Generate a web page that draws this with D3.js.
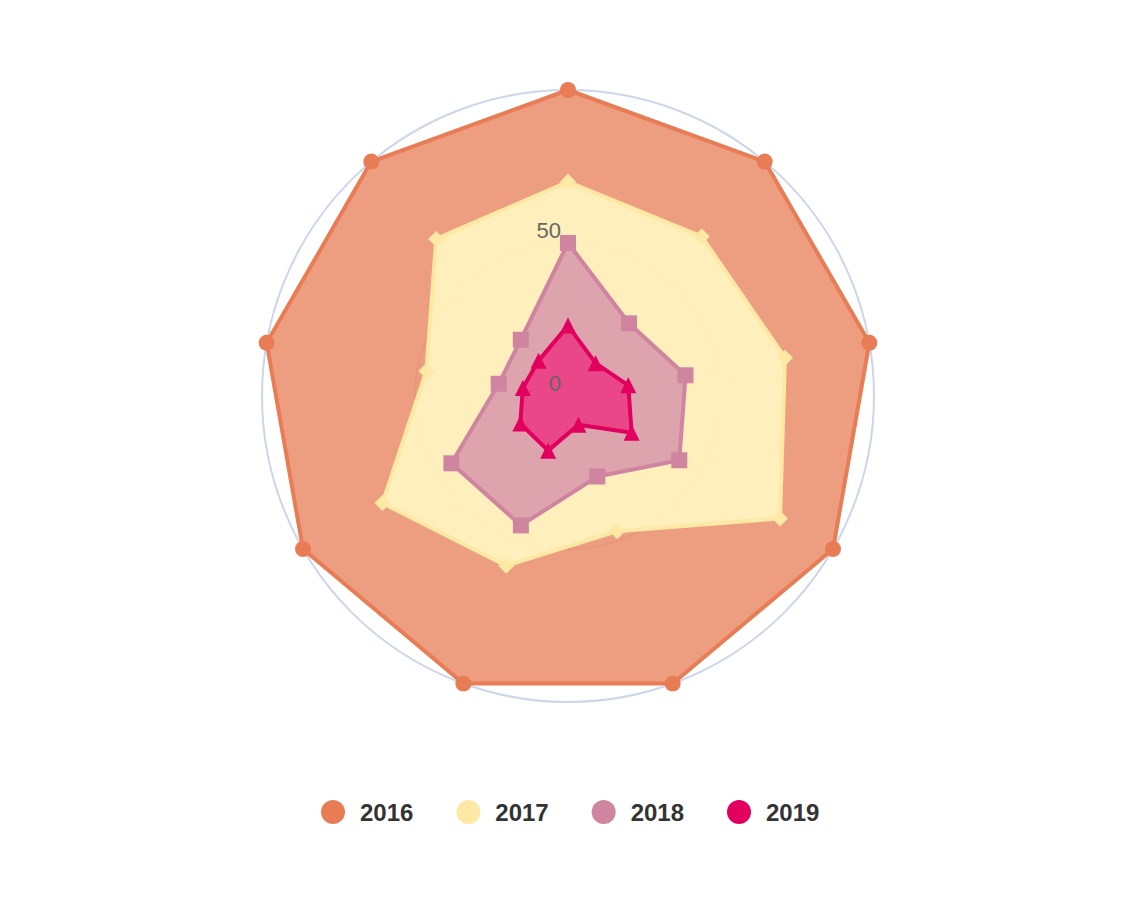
<!DOCTYPE html>
<html>
<head>
<meta charset="utf-8">
<script src="https://cdn.jsdelivr.net/npm/d3@7"></script>
<style>
  html, body { margin: 0; padding: 0; background: #ffffff; }
  svg { display: block; font-family: "Liberation Sans", Arial, Helvetica, sans-serif; }
</style>
</head>
<body>
<svg id="chart" width="1136" height="919"></svg>
<script>
// ---- data ----
const categories = ["A", "B", "C", "D", "E", "F", "G", "H", "I"];
const seriesNames = ["2016", "2017", "2018", "2019"];
const values2016 = [100, 100, 100, 100, 100, 100, 100, 100, 100];
const values2017 = [70, 68, 72, 80, 47, 59, 70, 47, 67];
const values2018 = [50, 31, 39, 42, 28, 45, 44, 23, 24];
const values2019 = [23, 14, 20, 24, 10, 19, 18, 15, 15];
const yTicks = [0, 50, 100];
const yTickLabels = ["0", "50"];

// ---- styles ----
const styles = [
  { color: "#e87d55", fill: "#e87d55", fillOpacity: 0.75, symbol: "circle" },
  { color: "#fde8a4", fill: "#fef3bf", fillOpacity: 0.95, symbol: "diamond" },
  { color: "#cf85a0", fill: "#cf85a6", fillOpacity: 0.7, symbol: "square" },
  { color: "#e2005e", fill: "#ee1f78", fillOpacity: 0.7, symbol: "triangle" }
];
const allValues = [values2016, values2017, values2018, values2019];

const svg = d3.select("#chart");
const cx = 568, cy = 396, R = 306;

const rScale = d3.scaleLinear().domain([0, 100]).range([0, R]);
const aScale = d3.scaleLinear().domain([0, categories.length]).range([0, 2 * Math.PI]);

const g = svg.append("g").attr("transform", `translate(${cx},${cy})`);

// grid lines (y axis)
g.selectAll("circle.grid")
  .data(yTicks.filter(t => t > 0 && t < 100))
  .enter().append("circle")
  .attr("class", "grid")
  .attr("r", d => rScale(d))
  .attr("fill", "none")
  .attr("stroke", "#e6e6e6")
  .attr("stroke-width", 2);

// outer axis line (x axis)
g.append("circle")
  .attr("r", rScale(100))
  .attr("fill", "none")
  .attr("stroke", "#ccd6eb")
  .attr("stroke-width", 2);

const line = d3.lineRadial()
  .angle((d, i) => aScale(i))
  .radius(d => rScale(d))
  .curve(d3.curveLinearClosed);

function symbolPath(type, x, y, r) {
  const w = 2 * r, h = 2 * r, x0 = x - r, y0 = y - r;
  if (type === "diamond") {
    return `M${x0 + w / 2},${y0}L${x0 + w},${y0 + h / 2}L${x0 + w / 2},${y0 + h}L${x0},${y0 + h / 2}Z`;
  } else if (type === "square") {
    return `M${x0},${y0}L${x0 + w},${y0}L${x0 + w},${y0 + h}L${x0},${y0 + h}Z`;
  } else if (type === "triangle") {
    return `M${x0 + w / 2},${y0}L${x0 + w},${y0 + h}L${x0},${y0 + h}Z`;
  }
  return null;
}

allValues.forEach((vals, si) => {
  const st = styles[si];
  const sg = g.append("g").attr("class", "series");
  sg.append("path")
    .attr("d", line(vals))
    .attr("fill", st.fill)
    .attr("fill-opacity", st.fillOpacity)
    .attr("stroke", "none");
  sg.append("path")
    .attr("d", line(vals))
    .attr("fill", "none")
    .attr("stroke", st.color)
    .attr("stroke-width", 4)
    .attr("stroke-linejoin", "round");
  const pts = vals.map((v, i) => {
    const a = aScale(i);
    return [rScale(v) * Math.sin(a), -rScale(v) * Math.cos(a)];
  });
  const mg = g.append("g").attr("class", "markers");
  pts.forEach(([x, y]) => {
    if (st.symbol === "circle") {
      mg.append("circle").attr("cx", x).attr("cy", y).attr("r", 8).attr("fill", st.color);
    } else {
      mg.append("path").attr("d", symbolPath(st.symbol, x, y, 8)).attr("fill", st.color);
    }
  });
});

// y axis labels
g.selectAll("text.ylab")
  .data(yTickLabels)
  .enter().append("text")
  .attr("class", "ylab")
  .attr("x", -7)
  .attr("y", (d, i) => -rScale(yTicks[i]) - 5)
  .attr("text-anchor", "end")
  .attr("font-size", 22)
  .attr("fill", "#666666")
  .text(d => d);

// legend
const legendX = d3.scalePoint().domain(seriesNames).range([333, 739]);
const lg = svg.append("g").attr("class", "legend");
seriesNames.forEach((name, i) => {
  const x = legendX(name);
  lg.append("circle").attr("cx", x).attr("cy", 812).attr("r", 12).attr("fill", styles[i].color);
  lg.append("text")
    .attr("x", x + 27)
    .attr("y", 821)
    .attr("font-size", 24)
    .attr("font-weight", "bold")
    .attr("fill", "#333333")
    .text(name);
});
</script>
</body>
</html>
